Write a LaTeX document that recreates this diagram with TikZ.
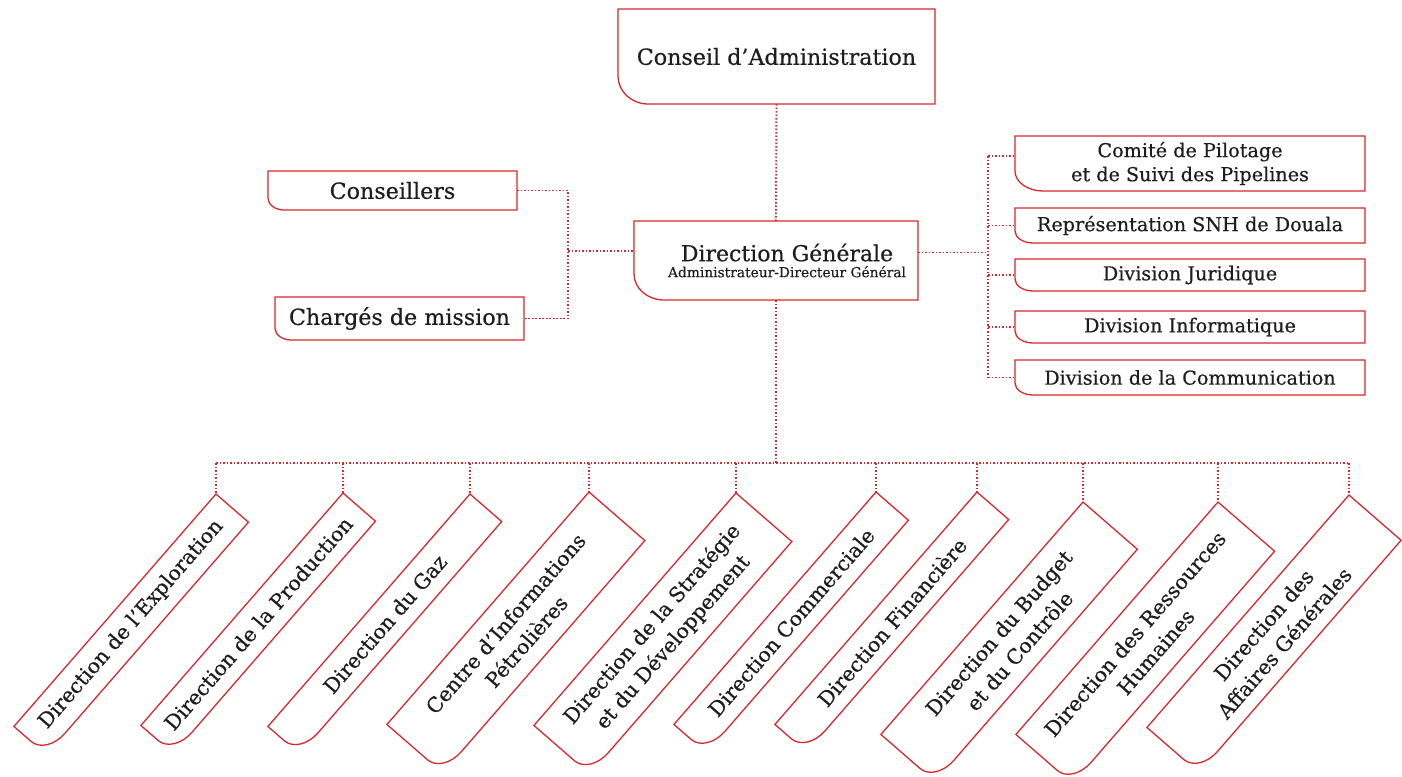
\documentclass[tikz,border=0pt]{standalone}
\usepackage{fontspec}
\setmainfont{DejaVu Serif}[FakeBold=0.5]
\usetikzlibrary{calc}
\definecolor{snhred}{RGB}{218,38,45}
\definecolor{txt}{RGB}{30,30,30}
\newcommand\rbox[3]{%
  \draw[edge] ($(#1.south west)!#2pt!(#1.south east)$)
    .. controls ($(#1.south west)!{0.45*#2pt}!(#1.south east)$) and ($(#1.south west)!{0.45*#3pt}!(#1.north west)$)
    .. ($(#1.south west)!#3pt!(#1.north west)$)
    -- (#1.north west) -- (#1.north east) -- (#1.south east) -- cycle;}
\begin{document}
\begin{tikzpicture}[x=1pt,y=-1pt,
  box/.style={inner sep=0pt, outer sep=0pt, text=txt, align=center},
  big/.style={font=\fontsize{22.2}{26}\selectfont},
  mid/.style={font=\fontsize{19.2}{24}\selectfont},
  rot/.style={font=\fontsize{20.5}{27.5}\selectfont},
  link/.style={draw=snhred, line width=1.9pt, dash pattern=on 1.6pt off 1.9pt},
  edge/.style={snhred, line width=1.3pt},
  diag/.style={box, rot, rotate=49, anchor=north east, minimum width=308pt}
]
\useasboundingbox (0,0) rectangle (1402,776);

% top level
\node[box,big,minimum width=317pt,minimum height=95pt] (ca) at (776.5,56.5) {Conseil d’Administration};
\node[box,minimum width=284pt,minimum height=79pt] (dg) at (776,260.5)
  {\fontsize{22}{26}\selectfont\hspace*{22pt}Direction Générale\\[4pt]\fontsize{13.8}{16}\selectfont\hspace*{22pt}Administrateur-Directeur Général};

% left
\node[box,big,minimum width=249pt,minimum height=39pt] (cons) at (392.5,190.5) {Conseillers};
\node[box,big,minimum width=249pt,minimum height=43pt] (charg) at (399.5,318.5) {Chargés de mission};

% right
\node[box,mid,minimum width=350pt,minimum height=55pt] (r1) at (1190,163.5) {Comité de Pilotage\\et de Suivi des Pipelines};
\node[box,mid,minimum width=350pt,minimum height=35pt] (r2) at (1190,225.5) {Représentation SNH de Douala};
\node[box,mid,minimum width=350pt,minimum height=32pt] (r3) at (1190,275) {Division Juridique};
\node[box,mid,minimum width=350pt,minimum height=32pt] (r4) at (1190,327) {Division Informatique};
\node[box,mid,minimum width=350pt,minimum height=35pt] (r5) at (1190,377.5) {Division de la Communication};

% bottom (rotated)
\node[diag,minimum height=43pt] (d1) at (216,494) {Direction de l’Exploration};
\node[diag,minimum height=43pt] (d2) at (343,493) {Direction de la Production};
\node[diag,minimum height=42pt] (d3) at (470,494) {Direction du Gaz};
\node[diag,minimum height=74pt] (d4) at (589,492) {Centre d’Informations\\Pétrolières};
\node[diag,minimum height=74pt] (d5) at (736,493) {Direction de la Stratégie\\et du Développement};
\node[diag,minimum height=43pt] (d6) at (876,492) {Direction Commerciale};
\node[diag,minimum height=42pt] (d7) at (977,492) {Direction Financière};
\node[diag,minimum height=72pt] (d8) at (1083,502) {Direction du Budget\\et du Contrôle};
\node[diag,minimum height=75pt] (d9) at (1218,502) {Direction des Ressources\\Humaines};
\node[diag,minimum height=69pt] (d10) at (1349,495) {Direction des\\Affaires Générales};

% outlines
\rbox{ca}{30}{28}
\rbox{dg}{30}{26}
\rbox{cons}{16}{12}
\rbox{charg}{16}{12}
\rbox{r1}{28}{20}
\rbox{r2}{18}{12}
\rbox{r3}{18}{12}
\rbox{r4}{18}{12}
\rbox{r5}{18}{12}
\foreach \n in {d1,d2,d3,d4,d5,d6,d7,d8,d9,d10} {\rbox{\n}{28}{20}}

% connectors
\draw[link] (ca.south) -- (dg.north);

\coordinate (lb1) at (568,190.5);
\coordinate (lb2) at (568,318.5);
\coordinate (lbm) at (568,251);
\draw[link] (cons.east) -- (lb1) -- (lb2) -- (charg.east);
\draw[link] (lbm) -- ([yshift=9.5pt]dg.west);

\coordinate (rt) at (988,156);
\coordinate (rbt) at (988,377.5);
\coordinate (rm) at (988,252.5);
\draw[link] ([yshift=8pt]dg.east) -- (rm);
\draw[link] (rt) -- (rbt);
\draw[link] (rt) -- ([yshift=7.5pt]r1.west);
\draw[link] (r2.west -| rt) -- (r2.west);
\draw[link] (r3.west -| rt) -- (r3.west);
\draw[link] (r4.west -| rt) -- (r4.west);
\draw[link] (r5.west -| rt) -- (r5.west);

\coordinate (bus) at (776,463);
\draw[link] (dg.south) -- (bus);
\foreach \n/\x in {d1/216,d2/343,d3/470,d4/589,d5/736,d6/876,d7/977,d8/1083,d9/1218,d10/1349} {
  \coordinate (b\n) at (\x,463);
  \draw[link] (b\n) -- (\n.north east);
}
\draw[link] (bd1) -- (bd10);
\end{tikzpicture}
\end{document}
